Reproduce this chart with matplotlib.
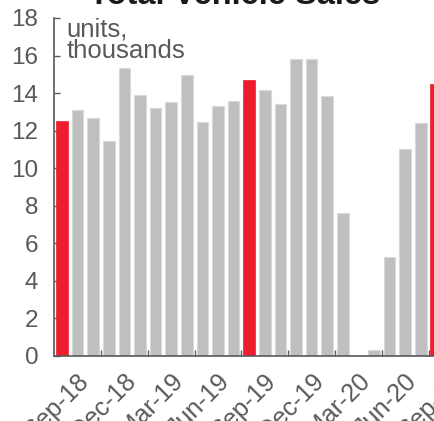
import numpy as np
import matplotlib.pyplot as plt

# data: monthly total vehicle sales, thousands of units, Sep-18 .. Sep-20
months = ["Sep-18", "Oct-18", "Nov-18", "Dec-18", "Jan-19", "Feb-19", "Mar-19",
          "Apr-19", "May-19", "Jun-19", "Jul-19", "Aug-19", "Sep-19", "Oct-19",
          "Nov-19", "Dec-19", "Jan-20", "Feb-20", "Mar-20", "Apr-20", "May-20",
          "Jun-20", "Jul-20", "Aug-20", "Sep-20"]
sales = [12.5, 13.1, 12.7, 11.45, 15.35, 13.9, 13.2, 13.55, 14.95, 12.45,
         13.3, 13.6, 14.7, 14.15, 13.4, 15.8, 15.8, 13.85, 7.6, 0.0, 0.32,
         5.25, 11.0, 12.4, 14.5]
highlight = ["Sep-18", "Sep-19", "Sep-20"]
label_months = ["Sep-18", "Dec-18", "Mar-19", "Jun-19", "Sep-19", "Dec-19",
                "Mar-20", "Jun-20", "Sep-20"]

RED = "#ED1C2E"
GREY = "#BFBFBF"
TXT = "#595959"

plt.rcParams["font.family"] = "Liberation Sans"

fig = plt.figure(figsize=(4.35, 4.21), dpi=100)
# axes runs a bit past the right edge of the figure (last bar is cut off)
ax = fig.add_axes([0.1246, 0.1544, 0.8966, 0.8029])

for i, (m, v) in enumerate(zip(months, sales)):
    if m in highlight:
        ax.bar(i, v, width=0.78, color=RED, edgecolor=RED, linewidth=0.5, zorder=2)
    else:
        ax.bar(i, v, width=0.74, color=GREY, edgecolor="#DADADA", linewidth=0.8, zorder=2)

ax.set_xlim(-0.5, len(months) - 0.5)
ax.set_ylim(0, 18)
ax.set_yticks(np.arange(0, 19, 2))
ax.tick_params(axis="y", direction="in", length=4, width=1, color=TXT,
               labelsize=17.5, labelcolor=TXT, pad=11.5)

# tick marks on the quarter boundaries
bounds = [i - 0.5 for i, m in enumerate(months) if m[:3] in ("Dec", "Mar", "Jun", "Sep") and i > 0]
ax.set_xticks(bounds)
ax.set_xticklabels([])
ax.tick_params(axis="x", direction="in", length=4, width=1, color=TXT)

# rotated month labels under the bar centres
for m in label_months:
    ax.annotate(m, xy=(months.index(m), 0), xycoords=("data", "axes fraction"),
                xytext=(15, -13), textcoords="offset pixels",
                rotation=45, rotation_mode="anchor", ha="right", va="top",
                fontsize=18, color=TXT, annotation_clip=False)

for s in ["top", "right"]:
    ax.spines[s].set_visible(False)
for s in ["left", "bottom"]:
    ax.spines[s].set_color(TXT)
    ax.spines[s].set_linewidth(1.2)

ax.text(0.032, 0.945, "units,", transform=ax.transAxes, ha="left", va="baseline",
        fontsize=18.5, color=TXT)
ax.text(0.032, 0.882, "thousands", transform=ax.transAxes, ha="left", va="baseline",
        fontsize=18.5, color=TXT)

fig.text(0.54, 0.9905, "Total Vehicle Sales", ha="center", va="baseline",
         fontsize=23.5, fontweight="bold", color="#1a1a1a")

fig.savefig("out.png", dpi=100)
